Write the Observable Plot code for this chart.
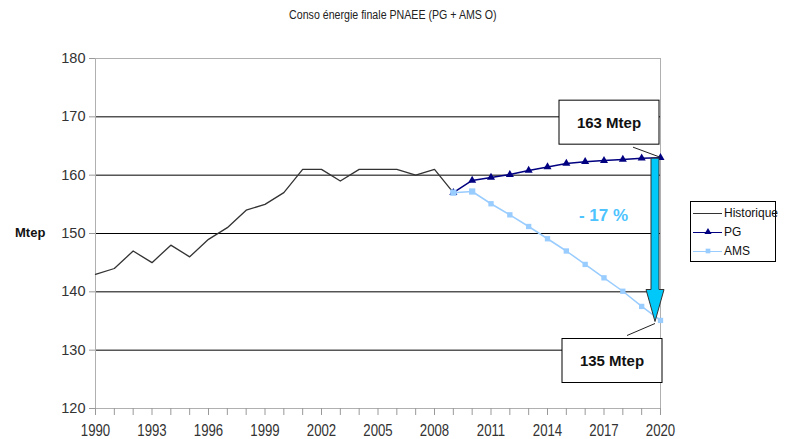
<!DOCTYPE html>
<html>
<head>
<meta charset="utf-8">
<script src="https://cdn.jsdelivr.net/npm/d3@7"></script>
<script src="https://cdn.jsdelivr.net/npm/@observablehq/plot@0.6"></script>
<style>
  body { margin: 0; background: #fff; }
  #wrap { position: relative; width: 785px; height: 439px; font-family: Arial, "Liberation Sans", sans-serif; }
  #title { position: absolute; left: 0; top: 8px; width: 785px; text-align: center; font-family: Arial, "Liberation Sans", sans-serif; font-size: 12.5px; color: #222; transform: scaleX(0.85); transform-origin: 395px 0; }
  #chart { position: absolute; left: 0; top: 30px; }
  #ylab { position: absolute; left: 15px; top: 225px; font-weight: bold; font-size: 13px; color: #111; }
  #legend { position: absolute; left: 690px; top: 201px; width: 84px; height: 59px; border: 1px solid #000; background: #fff; font-size: 12px; color: #111; }
  .row { position: absolute; left: 2px; height: 14px; display: flex; align-items: center; }
  .sw { position: relative; width: 29px; height: 14px; margin-right: 2px; }
  .sw .ln { position: absolute; left: 0; right: 0; top: 6.5px; height: 1.5px; }
  .sw svg { position: absolute; left: 10px; top: 2px; }
</style>
</head>
<body>
<div id="wrap">
  <div id="title">Conso énergie finale PNAEE (PG + AMS O)</div>
  <div id="chart"></div>
  <div id="ylab">Mtep</div>
  <div id="legend"></div>
</div>
<script>
// ---- data ----
const histYears  = [1990,1991,1992,1993,1994,1995,1996,1997,1998,1999,2000,2001,2002,2003,2004,2005,2006,2007,2008,2009];
const histValues = [143,144,147,145,148,146,149,151,154,155,157,161,161,159,161,161,161,160,161,157];
const projYears  = [2009,2010,2011,2012,2013,2014,2015,2016,2017,2018,2019,2020];
const pgValues   = [157,159.1,159.6,160.1,160.8,161.4,162.0,162.3,162.5,162.7,162.9,163.0];
const amsValues  = [157,157.2,155.1,153.2,151.2,149.1,147.0,144.7,142.4,140.1,137.5,135.1];
const yTicks     = [120,130,140,150,160,170,180];
const gridValues = [130,140,150,160,170];
const xLabelYears = [1990,1993,1996,1999,2002,2005,2008,2011,2014,2017,2020];
const allYears   = [1990,1991,1992,1993,1994,1995,1996,1997,1998,1999,2000,2001,2002,2003,2004,2005,2006,2007,2008,2009,2010,2011,2012,2013,2014,2015,2016,2017,2018,2019,2020];
const seriesNames = ["Historique","PG","AMS"];
const callouts = [
  {year: 2020, value: 163, label: "163 Mtep", pos: "top"},
  {year: 2020, value: 135, label: "135 Mtep", pos: "bottom"}
];
const reductionLabel = "- 17 %";

const hist = histYears.map((y, i) => ({year: y, value: histValues[i]}));
const pg   = projYears.map((y, i) => ({year: y, value: pgValues[i]}));
const ams  = projYears.map((y, i) => ({year: y, value: amsValues[i]}));

const colHist = "#333333", colPG = "#000080", colAMS = "#99CCFF";
const seriesColors = [colHist, colPG, colAMS];
const seriesSymbols = [null, "triangle", "square"];

function arrowRender(index, scales) {
  const x = scales.x(2020) - 5;
  const yTop = scales.y(callouts[0].value) + 1;
  const yTip = scales.y(callouts[1].value) + 1;
  const headStart = yTip - 32;
  const g = d3.create("svg:g");
  g.append("path")
    .attr("d", `M${x-4},${yTop} L${x+4},${yTop} L${x+4},${headStart} L${x+9},${headStart} L${x},${yTip} L${x-9},${headStart} L${x-4},${headStart} Z`)
    .attr("fill", "#00C8F8").attr("stroke", "#333").attr("stroke-width", 1);
  return g.node();
}

function calloutRender(index, scales) {
  const g = d3.create("svg:g");
  for (const c of callouts) {
    const ax = scales.x(c.year), ay = scales.y(c.value);
    let bx, by, lx1, ly1, lx2, ly2;
    if (c.pos === "top") { bx = ax - 101; by = ay - 57; lx1 = ax - 27; ly1 = ay - 10; lx2 = ax; ly2 = ay; }
    else { bx = ax - 98; by = ay + 18; lx1 = ax - 33; ly1 = ay + 15; lx2 = ax - 5; ly2 = ay + 3; }
    g.append("line").attr("x1", lx1).attr("y1", ly1).attr("x2", lx2).attr("y2", ly2).attr("stroke", "#222").attr("stroke-width", 1);
    g.append("rect").attr("x", bx).attr("y", by).attr("width", 100).attr("height", 44).attr("fill", "#fff").attr("stroke", "#000");
    g.append("text").attr("x", bx + 50).attr("y", by + 22).attr("text-anchor", "middle").attr("dominant-baseline", "central")
      .attr("font-weight", "bold").attr("font-size", 15).attr("fill", "#111").attr("font-family", "Arial, 'Liberation Sans', sans-serif").text(c.label);
  }
  return g.node();
}

const chart = Plot.plot({
  width: 785, height: 409,
  marginLeft: 95, marginRight: 125, marginTop: 28, marginBottom: 31,
  style: {fontFamily: "Arial, 'Liberation Sans', sans-serif", fontSize: "14px", color: "#333", background: "transparent"},
  x: {domain: [1990, 2020]},
  y: {domain: [120, 180]},
  marks: [
    Plot.ruleY(gridValues, {stroke: "#000", strokeWidth: 1}),
    Plot.frame({stroke: "#b0b0b0"}),
    Plot.axisY({ticks: yTicks, tickSize: 6, tickPadding: 4, label: null, stroke: "#999", fontSize: 14.5}),
    Plot.axisX({ticks: allYears, tickSize: 7, tickFormat: () => "", label: null, stroke: "#999"}),
    Plot.axisX({ticks: xLabelYears, tickSize: 0, tickPadding: 16, tickFormat: d => String(d), label: null, fontSize: 16.5}),
    Plot.line(hist, {x: "year", y: "value", stroke: colHist, strokeWidth: 1.3}),
    Plot.line(pg, {x: "year", y: "value", stroke: colPG, strokeWidth: 1.5}),
    Plot.dot(pg, {x: "year", y: "value", symbol: "triangle", r: 3, fill: colPG, stroke: "none"}),
    Plot.line(ams, {x: "year", y: "value", stroke: colAMS, strokeWidth: 1.5}),
    Plot.dot(ams, {x: "year", y: "value", symbol: "square", r: d => d.year <= 2010 ? 3.6 : 2.6, fill: colAMS, stroke: "none"}),
    Plot.text([reductionLabel], {x: () => 2020, y: () => (callouts[0].value + callouts[1].value) / 2, text: d => d, dx: -57, dy: -24,
      fill: "#4DC3FF", fontWeight: "bold", fontSize: 17}),
    arrowRender,
    calloutRender
  ]
});
// condense x tick labels to mimic a narrow font
chart.querySelectorAll("[aria-label='x-axis tick label'] text").forEach(t => {
  t.setAttribute("transform", (t.getAttribute("transform") || "") + " scale(0.8,1)");
});
document.getElementById("chart").appendChild(chart);

// legend
const legend = document.getElementById("legend");
const rowTops = [4, 23, 42];
seriesNames.forEach((name, i) => {
  const row = document.createElement("div");
  row.className = "row";
  row.style.top = rowTops[i] + "px";
  const sw = document.createElement("div");
  sw.className = "sw";
  const ln = document.createElement("div");
  ln.className = "ln";
  ln.style.background = seriesColors[i];
  sw.appendChild(ln);
  if (seriesSymbols[i]) {
    const s = d3.create("svg").attr("width", 10).attr("height", 10);
    s.append("path").attr("transform", "translate(5,5)")
      .attr("d", d3.symbol(seriesSymbols[i] === "triangle" ? d3.symbolTriangle : d3.symbolSquare, 22)())
      .attr("fill", seriesColors[i]);
    sw.appendChild(s.node());
  }
  row.appendChild(sw);
  const lab = document.createElement("span");
  lab.textContent = name;
  row.appendChild(lab);
  legend.appendChild(row);
});
</script>
</body>
</html>
